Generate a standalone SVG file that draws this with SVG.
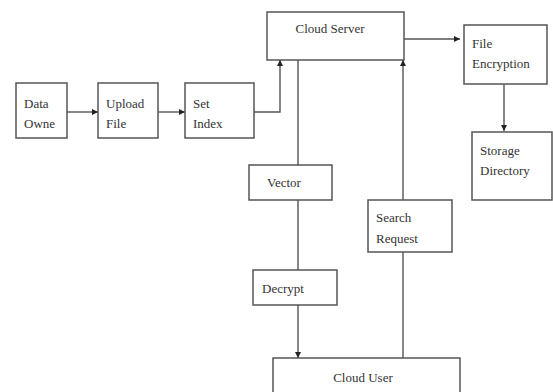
<svg xmlns="http://www.w3.org/2000/svg" width="553" height="392" viewBox="0 0 553 392">
<style>
.box{fill:#fff;stroke:#555;stroke-width:1.5}
.t{font-family:"Liberation Serif",serif;font-size:13px;fill:#333}
.c{text-anchor:middle}
.ln{fill:none;stroke:#555;stroke-width:1.4}
</style>
<defs>
<marker id="ah" viewBox="0 0 10 10" refX="10" refY="5" markerWidth="6" markerHeight="6" markerUnits="userSpaceOnUse" orient="auto">
<path d="M0,0 L10,5 L0,10 z" fill="#222"/>
</marker>
</defs>
<rect width="553" height="392" fill="#fff"/>
<g id="connectors">
<line class="ln" x1="67" y1="112" x2="98" y2="112" marker-end="url(#ah)"/>
<line class="ln" x1="158" y1="112" x2="185" y2="112" marker-end="url(#ah)"/>
<polyline class="ln" points="254,112 280,112 280,60" marker-end="url(#ah)"/>
<line class="ln" x1="404" y1="39" x2="460" y2="39" marker-end="url(#ah)"/>
<line class="ln" x1="504" y1="84" x2="504" y2="131" marker-end="url(#ah)"/>
<line class="ln" x1="298" y1="60" x2="298" y2="165"/>
<line class="ln" x1="298" y1="200" x2="298" y2="270"/>
<line class="ln" x1="298" y1="305" x2="298" y2="358" marker-end="url(#ah)"/>
<line class="ln" x1="403" y1="358" x2="403" y2="252"/>
<line class="ln" x1="403" y1="200" x2="403" y2="60" marker-end="url(#ah)"/>
</g>
<g id="data-owner">
<rect class="box" x="16" y="83" width="51" height="55"/>
<text class="t" x="24" y="108">Data</text>
<text class="t" x="24" y="128">Owne</text>
</g>
<g id="upload-file">
<rect class="box" x="98" y="83" width="60" height="55"/>
<text class="t" x="106" y="108">Upload</text>
<text class="t" x="106" y="128">File</text>
</g>
<g id="set-index">
<rect class="box" x="185" y="83" width="69" height="55"/>
<text class="t" x="193" y="108">Set</text>
<text class="t" x="193" y="128">Index</text>
</g>
<g id="cloud-server">
<rect class="box" x="267" y="12" width="137" height="48"/>
<text class="t c" x="330" y="33">Cloud Server</text>
</g>
<g id="file-encryption">
<rect class="box" x="464" y="25" width="83" height="59"/>
<text class="t" x="472" y="48">File</text>
<text class="t" x="472" y="68">Encryption</text>
</g>
<g id="storage-directory">
<rect class="box" x="472" y="132" width="80" height="68"/>
<text class="t" x="480" y="155">Storage</text>
<text class="t" x="480" y="175">Directory</text>
</g>
<g id="vector">
<rect class="box" x="249" y="165" width="83" height="35"/>
<text class="t" x="267" y="187">Vector</text>
</g>
<g id="search-request">
<rect class="box" x="368" y="200" width="84" height="52"/>
<text class="t" x="376" y="222">Search</text>
<text class="t" x="376" y="243">Request</text>
</g>
<g id="decrypt">
<rect class="box" x="253" y="270" width="84" height="35"/>
<text class="t" x="262" y="293">Decrypt</text>
</g>
<g id="cloud-user">
<rect class="box" x="273" y="358" width="187" height="40"/>
<text class="t c" x="363" y="382">Cloud User</text>
</g>
</svg>
